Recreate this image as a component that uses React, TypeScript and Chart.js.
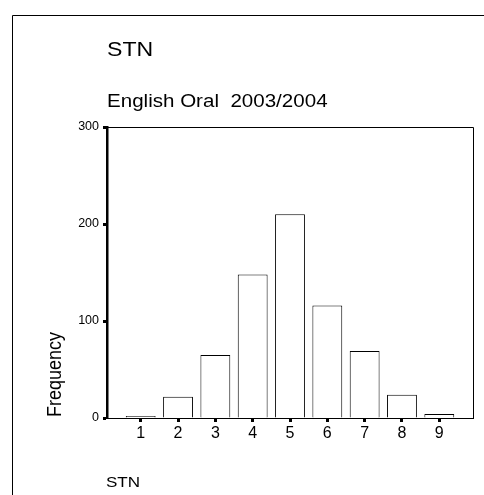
import React, { useEffect, useRef } from "react";
import { Chart, registerables } from "chart.js";

Chart.register(...registerables);

const categories = [1, 2, 3, 4, 5, 6, 7, 8, 9];
const frequencies = [2, 22, 65, 148, 210, 116, 69, 24, 4];
const yTicks = [0, 100, 200, 300];
const mainTitle = "STN";
const subTitle = "English Oral  2003/2004";
const yAxisTitle = "Frequency";
const xAxisTitle = "STN";

const FONT = "'Liberation Sans', Arial, sans-serif";
const SX = 1.1;

const decorPlugin = {
  id: "decor",
  afterDraw(chart: any) {
    const ctx = chart.ctx as CanvasRenderingContext2D;
    const a = chart.chartArea;
    ctx.save();
    ctx.strokeStyle = "#000";
    ctx.lineWidth = 1;
    // outer frame (left and top)
    ctx.beginPath();
    ctx.moveTo(12.5, 495);
    ctx.lineTo(12.5, 15.5);
    ctx.lineTo(484, 15.5);
    ctx.stroke();
    // plot box top & right
    ctx.beginPath();
    ctx.moveTo(a.left, Math.round(a.top) + 0.5);
    ctx.lineTo(Math.round(a.right) + 0.5, Math.round(a.top) + 0.5);
    ctx.lineTo(Math.round(a.right) + 0.5, a.bottom);
    ctx.stroke();

    ctx.fillStyle = "#000";
    ctx.textAlign = "left";
    ctx.textBaseline = "alphabetic";
    const drawText = (t: string, x: number, y: number, size: number, rot = 0) => {
      ctx.save();
      ctx.translate(x, y);
      ctx.scale(SX, 1);
      if (rot) ctx.rotate(rot);
      ctx.font = `${size}px ${FONT}`;
      ctx.fillText(t, 0, 0);
      ctx.restore();
    };
    drawText(mainTitle, a.left, 56, 21);
    drawText(subTitle, a.left, 107, 18.7);
    drawText(yAxisTitle, 60.5, a.bottom - 1, 18, -Math.PI / 2);
    drawText(xAxisTitle, a.left - 1, 487, 15.5);
    ctx.restore();
  },
};

export default function App() {
  const ref = useRef<HTMLCanvasElement | null>(null);
  useEffect(() => {
    if (!ref.current) return;
    const chart = new Chart(ref.current, {
      type: "bar",
      data: {
        datasets: [
          {
            data: categories.map((c, i) => ({ x: c, y: frequencies[i] })),
            backgroundColor: "#ffffff",
            borderColor: "#000000",
            borderWidth: 1,
            barPercentage: 0.8,
            categoryPercentage: 1,
          },
        ],
      },
      options: {
        responsive: false,
        animation: false,
        layout: { padding: { left: 0, top: 127, right: 11, bottom: 37 } },
        plugins: { legend: { display: false }, tooltip: { enabled: false }, title: { display: false } },
        scales: {
          x: {
            type: "linear",
            offset: false,
            min: 0.097,
            max: 9.903,
            afterBuildTicks: (s: any) => {
              s.ticks = categories.map((v) => ({ value: v }));
            },
            afterFit: (s: any) => {
              s.height = 40;
            },
            grid: {
              display: true,
              offset: false,
              drawOnChartArea: false,
              drawTicks: true,
              tickLength: 4,
              tickWidth: 3,
              tickColor: "#000",
            },
            border: { display: true, color: "#000", width: 1 },
            ticks: {
              color: "#000",
              font: { family: FONT, size: 16 },
              padding: 2,
              maxRotation: 0,
              autoSkip: false,
            },
          },
          y: {
            type: "linear",
            min: 0,
            max: 300,
            afterBuildTicks: (s: any) => {
              s.ticks = yTicks.map((v) => ({ value: v }));
            },
            afterFit: (s: any) => {
              s.width = 107;
            },
            grid: {
              display: true,
              drawOnChartArea: false,
              drawTicks: true,
              tickLength: 4,
              tickWidth: 3,
              tickColor: "#000",
            },
            border: { display: true, color: "#000", width: 2.5 },
            ticks: {
              color: "#000",
              font: { family: FONT, size: 12.5 },
              padding: 4,
            },
          },
        },
      },
      plugins: [decorPlugin],
    });
    return () => chart.destroy();
  }, []);
  return (
    <canvas
      ref={ref}
      width={484}
      height={495}
      style={{ position: "fixed", left: 0, top: 0, width: 484, height: 495, display: "block", background: "#fff" }}
    />
  );
}
